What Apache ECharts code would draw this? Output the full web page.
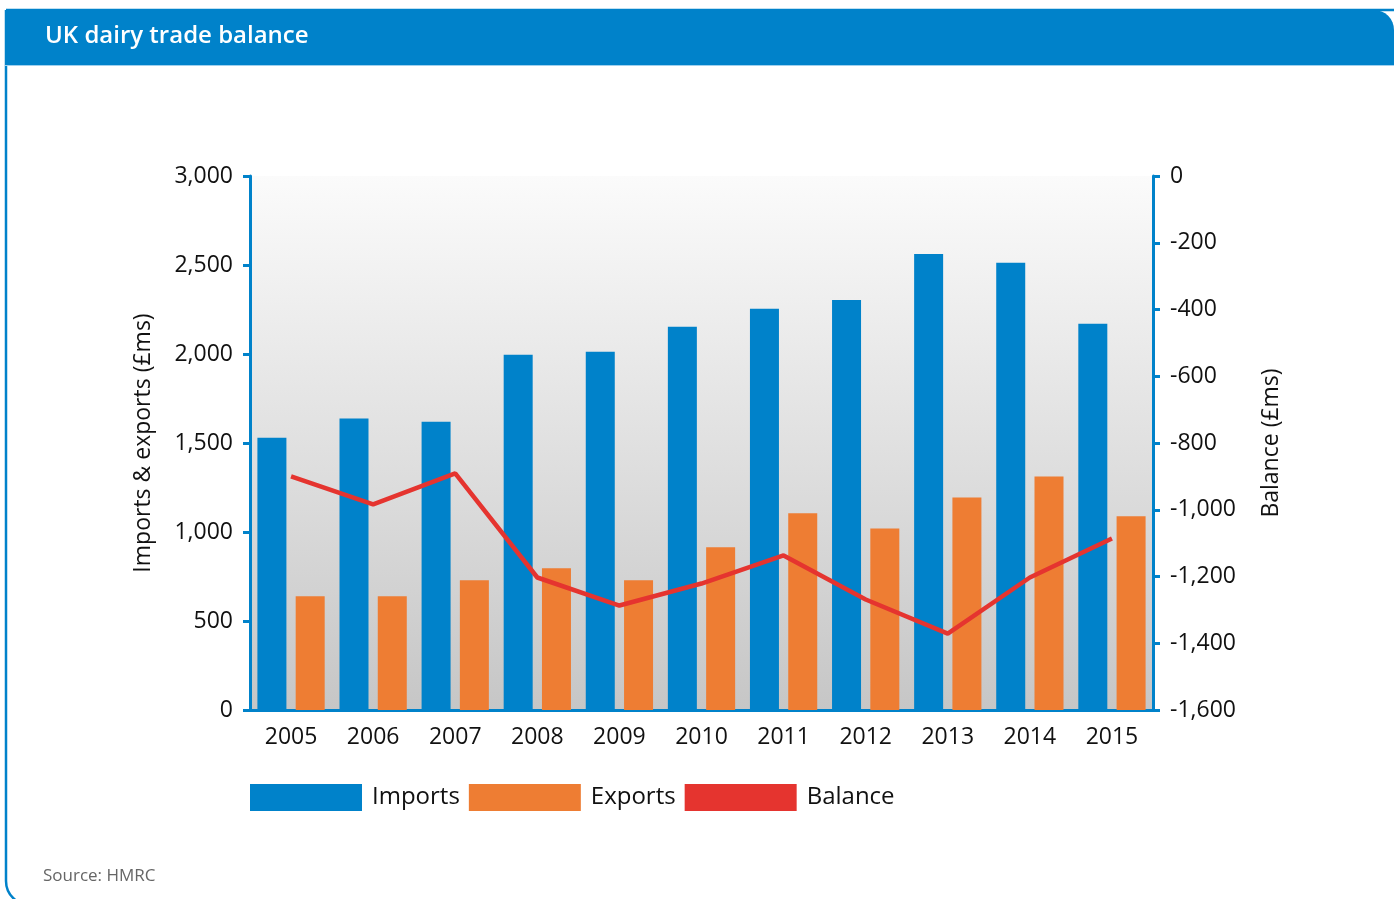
<!DOCTYPE html>
<html>
<head>
<meta charset="utf-8">
<title>UK dairy trade balance</title>
<script src="https://cdn.jsdelivr.net/npm/echarts@6/dist/echarts.min.js"></script>
<style>
  html, body { margin: 0; padding: 0; background: #fff; }
  #chart { width: 1394px; height: 899px; }
</style>
</head>
<body>
<div id="chart"></div>
<script>
  // values (£ms)
  const years = ['2005', '2006', '2007', '2008', '2009', '2010', '2011', '2012', '2013', '2014', '2015'];
  const imports = [1530, 1637, 1620, 1996, 2013, 2153, 2254, 2304, 2562, 2512, 2170];
  const exports = [639, 639, 729, 796, 729, 914, 1105, 1020, 1194, 1312, 1088];
  const balance = [-900, -984, -891, -1203, -1287, -1221, -1137, -1269, -1371, -1203, -1086];

  const blue = '#0082ca';
  const orange = '#ee7d33';
  const red = '#e5342f';
  const font = '"Open Sans", "Noto Sans", sans-serif';

  const myChart = echarts.init(document.getElementById('chart'));

  const axisCommon = {
    axisLine: { show: true, lineStyle: { color: blue, width: 3 } },
    axisTick: { show: true, length: 7, lineStyle: { color: blue, width: 3 } },
    splitLine: { show: false },
    axisLabel: { color: '#111', fontSize: 23, fontFamily: font, margin: 17 },
    nameTextStyle: { color: '#111', fontSize: 23, fontFamily: font },
    nameLocation: 'middle'
  };

  const option = {
    backgroundColor: '#fff',
    animation: false,
    textStyle: { fontFamily: font },
    graphic: [
      {
        type: 'rect',
        shape: { x: 6, y: 10, width: 1420, height: 895, r: [0, 18, 0, 24] },
        style: { fill: 'none', stroke: blue, lineWidth: 2.5 },
        z: 0
      },
      {
        type: 'rect',
        shape: { x: 5, y: 10, width: 1389, height: 55, r: [0, 20, 0, 0] },
        style: { fill: blue },
        z: 1
      },
      {
        type: 'rect',
        shape: { x: 5, y: 65, width: 1389, height: 1 },
        style: { fill: '#9fd0ee' },
        z: 1
      },
      {
        type: 'text',
        left: 45, top: 24,
        style: { text: 'UK dairy trade balance', fill: '#fff', font: '600 24px ' + font },
        z: 2
      },
      {
        type: 'text',
        left: 43, top: 868,
        style: { text: 'Source: HMRC', fill: '#666', font: '17px ' + font },
        z: 2
      }
    ],
    grid: {
      left: 250, right: 241, top: 176, bottom: 189,
      show: true,
      borderWidth: 0,
      backgroundColor: new echarts.graphic.LinearGradient(0, 0, 0, 1, [
        { offset: 0, color: '#fbfbfb' },
        { offset: 1, color: '#c6c6c6' }
      ])
    },
    legend: {
      left: 250, top: 784, padding: 0,
      itemWidth: 112, itemHeight: 27, itemGap: 9,
      icon: 'rect',
      textStyle: { color: '#111', fontSize: 24, fontFamily: font, padding: [3, 0, 0, 5] },
      data: ['Imports', 'Exports', 'Balance']
    },
    xAxis: {
      type: 'category',
      data: years,
      axisLine: { show: true, lineStyle: { color: blue, width: 3 } },
      axisTick: { show: false },
      axisLabel: { color: '#111', fontSize: 23, fontFamily: font, margin: 16 }
    },
    yAxis: [
      Object.assign({}, axisCommon, {
        type: 'value',
        min: 0, max: 3000, interval: 500,
        name: 'Imports & exports (£ms)',
        nameGap: 95
      }),
      Object.assign({}, axisCommon, {
        type: 'value',
        min: -1600, max: 0, interval: 200,
        position: 'right',
        name: 'Balance (£ms)',
        nameGap: 107,
        nameRotate: 90
      })
    ],
    series: [
      {
        name: 'Imports',
        type: 'bar',
        data: imports,
        barWidth: 29,
        barGap: '32%',
        itemStyle: { color: blue }
      },
      {
        name: 'Exports',
        type: 'bar',
        data: exports,
        barWidth: 29,
        barGap: '32%',
        itemStyle: { color: orange }
      },
      {
        name: 'Balance',
        type: 'line',
        yAxisIndex: 1,
        data: balance,
        symbol: 'none',
        itemStyle: { color: red },
        lineStyle: { color: red, width: 4.5 },
        z: 5
      }
    ]
  };

  myChart.setOption(option);
  window.addEventListener('resize', myChart.resize);
</script>
</body>
</html>
